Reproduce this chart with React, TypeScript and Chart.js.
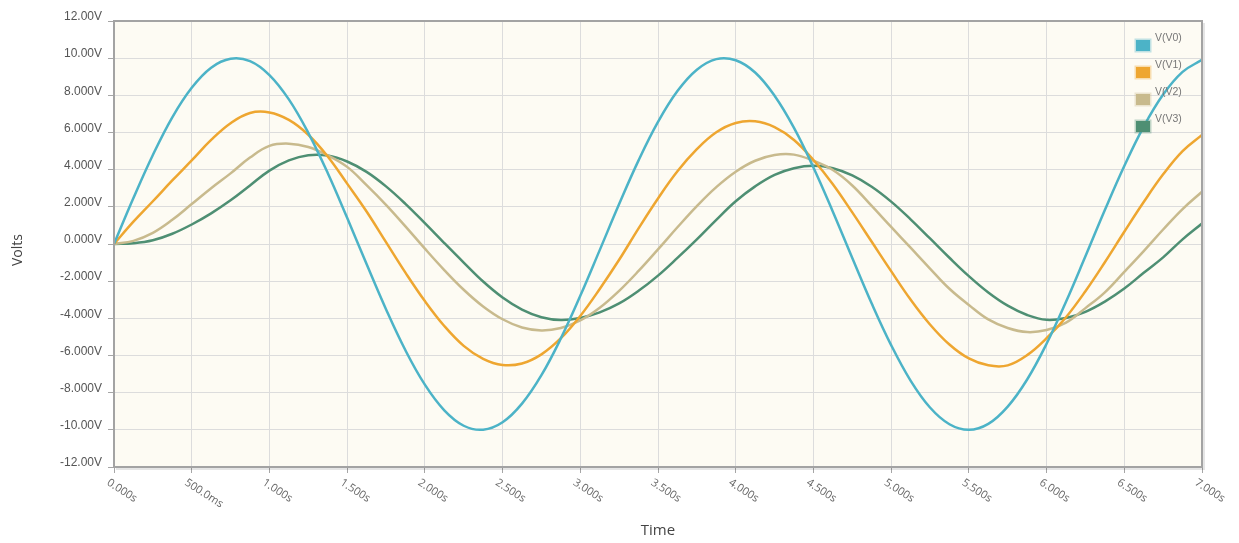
import React, { useEffect, useRef } from "react";
import { Chart, registerables } from "chart.js";

Chart.register(...registerables);

// ---- data (every 0.125 s) ----
const timeSec = [
  0, 0.125, 0.25, 0.375, 0.5, 0.625, 0.75, 0.875,
  1.0, 1.125, 1.25, 1.375, 1.5, 1.625, 1.75, 1.875,
  2.0, 2.125, 2.25, 2.375, 2.5, 2.625, 2.75, 2.875,
  3.0, 3.125, 3.25, 3.375, 3.5, 3.625, 3.75, 3.875,
  4.0, 4.125, 4.25, 4.375, 4.5, 4.625, 4.75, 4.875,
  5.0, 5.125, 5.25, 5.375, 5.5, 5.625, 5.75, 5.875,
  6.0, 6.125, 6.25, 6.375, 6.5, 6.625, 6.75, 6.875,
  7.0,
];
const vV0 = [
  0, 2.47, 4.79, 6.82, 8.41, 9.49, 9.97, 9.84,
  9.09, 7.78, 5.98, 3.82, 1.41, -1.08, -3.51, -5.72,
  -7.57, -8.95, -9.78, -9.99, -9.59, -8.59, -7.06, -5.08,
  -2.79, -0.33, 2.15, 4.5, 6.57, 8.23, 9.38, 9.95,
  9.89, 9.23, 7.98, 6.25, 4.12, 1.74, -0.75, -3.2,
  -5.44, -7.35, -8.8, -9.7, -10.0, -9.68, -8.75, -7.29,
  -5.37, -3.11, -0.66, 1.83, 4.2, 6.32, 8.04, 9.26,
  9.91,
];
const vV1 = [
  0, 1.2, 2.3, 3.42, 4.5, 5.6, 6.5, 7.05,
  7.08, 6.68, 5.88, 4.71, 3.25, 1.75, 0.1, -1.54,
  -3.07, -4.41, -5.48, -6.18, -6.51, -6.43, -5.94, -5.07,
  -3.87, -2.42, -0.85, 0.84, 2.45, 3.91, 5.1, 6.01,
  6.51, 6.6, 6.29, 5.6, 4.52, 3.22, 1.7, 0.12,
  -1.46, -2.99, -4.33, -5.41, -6.16, -6.53, -6.53, -5.98,
  -5.07, -3.94, -2.54, -0.98, 0.66, 2.26, 3.75, 5.0,
  5.87,
];
const vV2 = [
  0, 0.17, 0.6, 1.3, 2.15, 3.0, 3.8, 4.65,
  5.28, 5.4, 5.22, 4.77, 4.15, 3.17, 2.11, 0.95,
  -0.25, -1.4, -2.46, -3.36, -4.05, -4.49, -4.65, -4.52,
  -4.11, -3.43, -2.52, -1.45, -0.29, 0.9, 2.04, 3.06,
  3.89, 4.48, 4.79, 4.81, 4.48, 3.98, 3.15, 2.05,
  0.92, -0.2, -1.32, -2.41, -3.28, -4.06, -4.52, -4.74,
  -4.63, -4.23, -3.45, -2.6, -1.5, -0.38, 0.78, 1.88,
  2.81,
];
const vV3 = [
  0, 0.04, 0.2, 0.55, 1.05, 1.65, 2.35, 3.15,
  3.95, 4.5, 4.78, 4.76, 4.44, 3.88, 3.1, 2.16,
  1.12, 0.05, -1.0, -2.02, -2.88, -3.53, -3.94, -4.09,
  -3.98, -3.68, -3.2, -2.52, -1.7, -0.75, 0.25, 1.3,
  2.3, 3.1, 3.72, 4.08, 4.21, 4.08, 3.69, 3.08,
  2.28, 1.33, 0.3, -0.74, -1.73, -2.61, -3.32, -3.82,
  -4.08, -3.98, -3.65, -3.1, -2.4, -1.55, -0.72, 0.25,
  1.1,
];
const seriesNames = ["V(V0)", "V(V1)", "V(V2)", "V(V3)"];
const seriesColors = ["#4cb3c7", "#eea630", "#c8ba8d", "#4e8f73"];

const yTickValues = [-12, -10, -8, -6, -4, -2, 0, 2, 4, 6, 8, 10, 12];
const yTickLabels = [
  "-12.00V", "-10.00V", "-8.000V", "-6.000V", "-4.000V", "-2.000V", "0.000V",
  "2.000V", "4.000V", "6.000V", "8.000V", "10.00V", "12.00V",
];
const xTickValues = [0, 0.5, 1, 1.5, 2, 2.5, 3, 3.5, 4, 4.5, 5, 5.5, 6, 6.5, 7];
const xTickLabels = [
  "0.000s", "500.0ms", "1.000s", "1.500s", "2.000s", "2.500s", "3.000s", "3.500s",
  "4.000s", "4.500s", "5.000s", "5.500s", "6.000s", "6.500s", "7.000s",
];
const xTitle = "Time";
const yTitle = "Volts";

const PLOT_BG = "#fdfbf3";
const GRID = "#dcdcdc";

const decorPlugin = {
  id: "decor",
  beforeDraw(chart: any) {
    const { ctx, chartArea: a } = chart;
    ctx.save();
    ctx.fillStyle = "#ffffff";
    ctx.fillRect(0, 0, chart.width, chart.height);
    ctx.fillStyle = PLOT_BG;
    ctx.fillRect(a.left, a.top, a.right - a.left, a.bottom - a.top);
    ctx.restore();
  },
  afterDatasetsDraw(chart: any) {
    const { ctx, chartArea: a } = chart;
    ctx.save();
    ctx.strokeStyle = "rgba(0,0,0,0.10)";
    ctx.lineWidth = 2;
    ctx.beginPath();
    ctx.moveTo(a.right + 2, a.top + 2);
    ctx.lineTo(a.right + 2, a.bottom + 2);
    ctx.lineTo(a.left + 2, a.bottom + 2);
    ctx.stroke();
    ctx.strokeStyle = "#a3a3a3";
    ctx.lineWidth = 2;
    ctx.strokeRect(a.left, a.top, a.right - a.left, a.bottom - a.top);
    ctx.restore();
  },
  afterDraw(chart: any) {
    const { ctx, chartArea: a } = chart;
    const xs = chart.scales.x;
    ctx.save();
    ctx.font = "11px 'Open Sans'";
    ctx.fillStyle = "#666666";
    ctx.textAlign = "left";
    ctx.textBaseline = "top";
    xTickValues.forEach((v, i) => {
      const px = xs.getPixelForValue(v);
      ctx.save();
      ctx.translate(px - 3, a.bottom + 10);
      ctx.rotate((33 * Math.PI) / 180);
      ctx.fillText(xTickLabels[i], 0, 0);
      ctx.restore();
    });
    ctx.fillStyle = "#444444";
    ctx.font = "15px 'Open Sans'";
    ctx.textAlign = "center";
    ctx.textBaseline = "middle";
    ctx.fillText(xTitle, (a.left + a.right) / 2, 531);
    ctx.save();
    ctx.translate(18, 250);
    ctx.rotate(-Math.PI / 2);
    ctx.font = "14px 'Open Sans'";
    ctx.fillText(yTitle, 0, 0);
    ctx.restore();
    ctx.font = "10.5px 'Liberation Sans'";
    ctx.textAlign = "left";
    ctx.textBaseline = "alphabetic";
    chart.data.datasets.forEach((ds: any, i: number) => {
      const y0 = a.top + 19 + 27 * i;
      const x0 = a.right - 66;
      ctx.fillStyle = ds.borderColor;
      ctx.fillRect(x0, y0, 14, 11);
      ctx.globalAlpha = 0.35;
      ctx.strokeStyle = ds.borderColor;
      ctx.lineWidth = 1.5;
      ctx.strokeRect(x0 - 0.75, y0 - 0.75, 15.5, 12.5);
      ctx.globalAlpha = 1;
      ctx.fillStyle = "#777777";
      ctx.fillText(ds.label, x0 + 19, y0 + 1);
    });
    ctx.restore();
  },
};

export default function App() {
  const ref = useRef<HTMLCanvasElement | null>(null);

  useEffect(() => {
    document.body.style.margin = "0";
    const canvas = ref.current;
    if (!canvas) return;
    const seriesValues = [vV0, vV1, vV2, vV3];
    const chart = new Chart(canvas, {
      type: "line",
      data: {
        datasets: seriesValues.map((vals, i) => ({
          label: seriesNames[i],
          data: timeSec.map((t, j) => ({ x: t, y: vals[j] })),
          borderColor: seriesColors[i],
          backgroundColor: seriesColors[i],
          borderWidth: 2.5,
          pointRadius: 0,
          tension: 0.4,
          fill: false,
        })),
      },
      options: {
        responsive: false,
        animation: false,
        devicePixelRatio: 1,
        layout: { padding: { top: 21, right: 37, left: 0, bottom: 0 } },
        plugins: { legend: { display: false }, tooltip: { enabled: false } },
        scales: {
          x: {
            type: "linear",
            min: 0,
            max: 7,
            afterBuildTicks: (s: any) => {
              s.ticks = xTickValues.map((v) => ({ value: v }));
            },
            afterFit: (s: any) => {
              s.height = 76;
            },
            ticks: { display: false },
            grid: { color: GRID, lineWidth: 1, tickLength: 6, tickColor: "#a6a6a6" },
            border: { display: false },
          },
          y: {
            type: "linear",
            min: -12,
            max: 12,
            afterBuildTicks: (s: any) => {
              s.ticks = yTickValues.map((v) => ({ value: v }));
            },
            afterFit: (s: any) => {
              s.width = 114;
            },
            ticks: {
              callback: (_v: any, i: number) => yTickLabels[i],
              font: { family: "'Liberation Sans'", size: 12 },
              color: "#555555",
              padding: 6,
              labelOffset: -4,
            },
            grid: { color: GRID, lineWidth: 1, tickLength: 6, tickColor: "#a6a6a6" },
            border: { display: false },
          },
        },
      },
      plugins: [decorPlugin],
    } as any);
    return () => chart.destroy();
  }, []);

  return (
    <div style={{ width: 1239, height: 543 }}>
      <canvas ref={ref} width={1239} height={543} style={{ display: "block" }} />
    </div>
  );
}
